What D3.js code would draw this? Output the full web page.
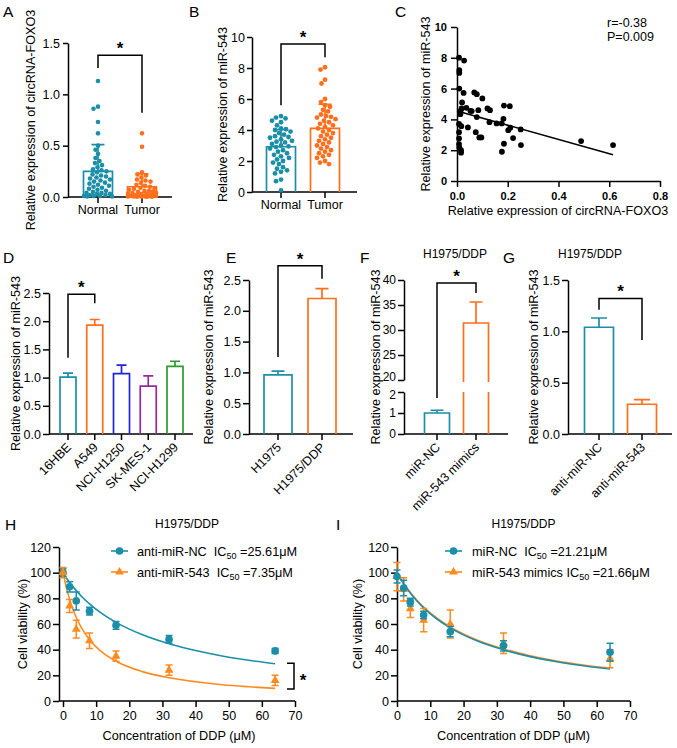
<!DOCTYPE html>
<html><head><meta charset="utf-8">
<script src="https://cdn.jsdelivr.net/npm/d3@7/dist/d3.min.js"></script>
<style>body{margin:0;background:#fff} svg text{white-space:pre}</style>
</head><body><svg id="c" width="677" height="748"></svg>
<script>
// ---------------- DATA ----------------
const groupsAB = ["Normal", "Tumor"];
const circNormal = [1.13,0.88,0.86,0.73,0.62,0.5,0.46,0.42,0.38,0.35,0.33,0.31,0.29,0.27,0.26,0.25,0.24,0.22,0.21,0.2,0.19,0.18,0.17,0.16,0.15,0.14,0.13,0.12,0.11,0.1,0.09,0.08,0.07,0.06,0.05,0.04,0.04,0.03,0.03,0.02,0.02,0.01,0.01,0.01,0.005,0.005];
const circTumor = [0.62,0.49,0.24,0.22,0.21,0.19,0.17,0.16,0.15,0.14,0.12,0.11,0.1,0.09,0.08,0.08,0.07,0.06,0.06,0.05,0.05,0.04,0.04,0.03,0.03,0.03,0.02,0.02,0.02,0.01,0.01,0.01,0.01,0.005,0.005,0.005,0.005,0.002,0.002,0.002];
const circMean = [0.25, 0.10];
const circSD = [0.26, 0.125];
const circBracket = [1.38, 1.256, 0.82];

const mirNormal = [4.9,4.8,4.75,4.6,4.5,4.3,4.1,4.05,4.0,3.9,3.8,3.7,3.6,3.55,3.5,3.4,3.3,3.25,3.2,3.1,3.0,2.95,2.9,2.8,2.7,2.6,2.5,2.4,2.3,2.2,2.1,2.0,1.9,1.8,1.6,1.5,1.4,1.3,1.2,0.8,0.7,0.1];
const mirTumor = [8.05,7.9,7.25,7.0,6.0,5.8,5.6,5.5,5.3,5.2,5.0,4.9,4.85,4.8,4.7,4.6,4.5,4.4,4.3,4.2,4.1,4.0,3.9,3.8,3.7,3.6,3.5,3.4,3.3,3.2,3.1,3.0,2.9,2.8,2.7,2.6,2.5,2.4,2.3,2.2,2.0,1.9,1.8];
const mirMean = [2.92, 4.11];
const mirSD = [1.1, 1.55];
const mirBracket = [9.55, 5.6, 8.7];

const scatterX = [0.008,0.028,0.009,0.009,0.009,0.026,0.068,0.078,0.10,0.02,0.037,0.018,0.014,0.053,0.058,0.084,0.12,0.13,0.185,0.208,0.013,0.078,0.183,0.128,0.156,0.176,0.008,0.017,0.043,0.21,0.202,0.251,0.074,0.008,0.008,0.088,0.096,0.221,0.489,0.185,0.008,0.252,0.615,0.009,0.016,0.016,0.177];
const scatterY = [8.01,7.82,7.19,7.02,6.0,5.72,5.75,5.64,5.36,5.1,4.75,4.71,4.54,4.56,4.54,4.6,4.71,4.6,4.9,4.86,4.34,4.15,4.04,3.82,3.74,3.74,3.7,3.56,3.48,3.46,3.3,3.35,3.17,3.17,2.76,2.83,2.83,2.79,2.59,2.42,2.4,2.33,2.33,2.18,2.0,1.84,1.9];
const regX = [0, 0.615];
const regY = [4.55, 1.7];

const cellLines = ["16HBE","A549","NCI-H1250","SK-MES-1","NCI-H1299"];
const cellMean = [1.01,1.93,1.07,0.85,1.2];
const cellSD = [0.07,0.1,0.15,0.18,0.09];
const cellBracket = [2.48, 1.35, 2.32];

const eCats = ["H1975","H1975/DDP"];
const eMean = [0.96, 2.2];
const eSD = [0.06, 0.16];
const eBracket = [2.73, 1.25, 2.52];

const fCats = ["miR-NC","miR-543 mimics"];
const fMean = [1.0, 31.4];
const fSD = [0.13, 4.2];
const fBracket = [39.4, 1.71, 37.4];

const gCats = ["anti-miR-NC","anti-miR-543"];
const gMean = [1.04, 0.29];
const gSD = [0.09, 0.045];
const gBracket = [1.32, 1.21, 0.915];

const doses = [0,2,4,8,16,32,64];
const hNC = [100,89,78,70,59,48,39];
const hNCsd = [3,4,7,3,3,3,2];
const h543 = [100,74,56,47,35,24,16];
const h543sd = [4,5,7,6,4,4,4];
const curveX = [0,1,2,4,6,8,12,16,24,32,40,48,56,64];
const hCurveNC = [100,95.9,92.4,86,80.5,75.7,67.7,61.3,51.6,44.6,39.3,35.1,31.8,29];
const hCurve543 = [100,88.5,79.2,65.1,55.2,47.8,37.7,31,22.9,18.1,15,12.7,11.1,9.8];
const hBracket = [67.6, 69.7, 29.5, 9.4];

const iNC = [97,88,77,67,54,43,38];
const iNCsd = [5,6,3,3,4,4,7];
const iMim = [97,87,72,63,60,45,33];
const iMimsd = [11,9,7,9,11,8,7];
const iCurveNC = [100,95.5,91.4,84.1,77.9,72.6,63.9,57,46.9,39.9,34.6,30.6,27.5,25];
const iCurveMim = [100,95.6,91.6,84.5,78.4,73.2,64.6,57.7,47.6,40.6,35.3,31.2,28.1,25.6];

const yTicksA = [0,0.5,1.0,1.5];
const yTicksB = [0,2,4,6,8,10];
const xTicksC = [0,0.2,0.4,0.6,0.8];
const yTicksDE = [0,0.5,1.0,1.5,2.0,2.5];
const yTicksFtop = [20,25,30,35,40];
const yTicksFbot = [0,1,2];
const yTicksG = [0,0.5,1.0,1.5];
const xTicksHI = [0,10,20,30,40,50,60,70];
const yTicksHI = [0,20,40,60,80,100,120];

// ---------------- STYLE ----------------
const FONT = '"Liberation Sans", Arial, Helvetica, sans-serif';
const TEAL = "#1b8fa8", ORANGE = "#ff6f1c", ORANGE2 = "#ff8a1e";
const cellColors = [TEAL, ORANGE, "#2222dd", "#952a98", "#2a9c2a"];
const svg = d3.select("#c").attr("font-family", FONT);
svg.append("rect").attr("width",677).attr("height",748).attr("fill","#fff");
const LW = 1.5;

function text(x, y, s, o = {}) {
  const t = svg.append("text").attr("x", x).attr("y", y).text(s)
    .attr("font-size", o.fs || 12.5).attr("text-anchor", o.anchor || "start").attr("fill", "#000");
  if (o.bold) t.attr("font-weight", "bold");
  if (o.rot) t.attr("transform", `rotate(${o.rot},${x},${y})`);
  return t;
}
function styleAx(g, o = {}) {
  g.attr("font-family", FONT).attr("font-size", o.fs || 12.5);
  if (o.bold) g.attr("font-weight", "bold");
  g.selectAll("path,line").attr("stroke", "#000").attr("stroke-width", LW);
  g.selectAll("text").attr("fill", "#000");
}
function yAxis(scale, x, ticks, fmt, o = {}) {
  const g = svg.append("g").attr("transform", `translate(${x},0)`)
    .call(d3.axisLeft(scale).tickValues(ticks).tickFormat(fmt).tickSize(o.ts || 6).tickPadding(o.tp ?? 2).tickSizeOuter(0));
  styleAx(g, o);
  return g;
}
function hline(x1, x2, y) {
  svg.append("line").attr("x1", x1).attr("x2", x2).attr("y1", y).attr("y2", y).attr("stroke", "#000").attr("stroke-width", LW);
}
function catAxis(cats, centers, y, rotate) {
  const g = svg.append("g").attr("transform", `translate(0,${y})`);
  cats.forEach((c, i) => {
    g.append("line").attr("x1", centers[i]).attr("x2", centers[i]).attr("y1", 0).attr("y2", 6).attr("stroke", "#000").attr("stroke-width", LW);
    if (rotate) {
      g.append("text").attr("transform", `translate(${centers[i] + 4},${14}) rotate(-45)`)
        .attr("text-anchor", "end").attr("font-size", 12.5).attr("fill", "#000").text(c);
    } else {
      g.append("text").attr("x", centers[i]).attr("y", 17).attr("text-anchor", "middle").attr("font-size", 12.5).attr("fill", "#000").text(c);
    }
  });
}
function bar(cx, w, yTop, yBot, color) {
  svg.append("path").attr("d", `M${cx - w / 2},${yBot}V${yTop}H${cx + w / 2}V${yBot}`)
    .attr("fill", "none").attr("stroke", color).attr("stroke-width", 1.7);
}
function errUp(cx, y1, y2, cap, color) {
  svg.append("path").attr("d", `M${cx},${y1}V${y2}M${cx - cap / 2},${y2}H${cx + cap / 2}`)
    .attr("fill", "none").attr("stroke", color).attr("stroke-width", 1.7);
}
function bracket(x1, x2, yTop, yL, yR) {
  svg.append("path").attr("d", `M${x1},${yL}V${yTop}H${x2}V${yR}`).attr("fill", "none").attr("stroke", "#000").attr("stroke-width", LW);
  star((x1 + x2) / 2, yTop - 11);
}
function star(x, yc) {
  svg.append("text").attr("x", x).attr("y", yc + 10).attr("text-anchor", "middle").attr("font-size", 17)
    .attr("font-weight", "bold").attr("fill", "#000").text("*");
}
function swarm(vals, y, cx, r, half, color) {
  const pts = vals.map(v => ({ v, y: y(v) })).sort((a, b) => a.y - b.y);
  const placed = [];
  const cands = d3.range(-half, half + 0.01, 0.5).sort((a, b) => Math.abs(a) - Math.abs(b));
  for (const p of pts) {
    let best = null, bestD = -1;
    for (const off of cands) {
      const x = cx + off;
      let md = Infinity;
      for (const q of placed) md = Math.min(md, Math.hypot(q.x - x, q.y - p.y));
      if (md >= 2 * r + 0.2) { best = x; bestD = md; break; }
      if (md > bestD) { bestD = md; best = x; }
    }
    placed.push({ x: best, y: p.y });
  }
  svg.append("g").selectAll("circle").data(placed).join("circle")
    .attr("cx", d => d.x).attr("cy", d => d.y).attr("r", r).attr("fill", color);
}

// ---------------- PANEL A ----------------
{
  const y = d3.scaleLinear().domain([0, 1.5]).range([197, 43]);
  const xs = d3.scalePoint().domain(groupsAB).range([98, 142]);
  yAxis(y, 68, yTicksA, d3.format(".1f"), { ts: 5, tp: 3 });
  hline(68, 172, y(0));
  catAxis(groupsAB, groupsAB.map(xs), y(0), false);
  const sets = [circNormal, circTumor], cols = [TEAL, ORANGE];
  groupsAB.forEach((g, i) => {
    bar(xs(g), 29, y(circMean[i]), y(0), cols[i]);
    errUp(xs(g), y(circMean[i]), y(circMean[i] + circSD[i]), 13, cols[i]);
    swarm(sets[i], y, xs(g), 2.3, 14, cols[i]);
  });
  bracket(xs(groupsAB[0]), xs(groupsAB[1]), y(circBracket[0]), y(circBracket[1]), y(circBracket[2]));
  text(35, 120, "Relative expression of circRNA-FOXO3", { rot: -90, anchor: "middle", fs: 12.6 });
  text(3, 17, "A", { fs: 15.5 });
}
// ---------------- PANEL B ----------------
{
  const y = d3.scaleLinear().domain([0, 10]).range([192, 37]);
  const xs = d3.scalePoint().domain(groupsAB).range([281, 325]);
  yAxis(y, 252, yTicksB, d3.format("d"), { ts: 5, tp: 2 });
  hline(252, 357, y(0));
  catAxis(groupsAB, groupsAB.map(xs), y(0), false);
  const sets = [mirNormal, mirTumor], cols = [TEAL, ORANGE];
  groupsAB.forEach((g, i) => {
    bar(xs(g), 29, y(mirMean[i]), y(0), cols[i]);
    errUp(xs(g), y(mirMean[i]), y(mirMean[i] + mirSD[i]), 13, cols[i]);
    swarm(sets[i], y, xs(g), 2.4, 14, cols[i]);
  });
  bracket(xs(groupsAB[0]), xs(groupsAB[1]), y(mirBracket[0]), y(mirBracket[1]), y(mirBracket[2]));
  text(227, 114.5, "Relative expression of miR-543", { rot: -90, anchor: "middle", fs: 12.6 });
  text(189, 17, "B", { fs: 15.5 });
}
// ---------------- PANEL C ----------------
{
  const x = d3.scaleLinear().domain([0, 0.8]).range([457, 660]);
  const y = d3.scaleLinear().domain([0, 10]).range([181, 27]);
  yAxis(y, 457, yTicksB, d3.format("d"), { ts: 6, tp: 4, bold: true, fs: 11 });
  const gx = svg.append("g").attr("transform", `translate(0,${181})`)
    .call(d3.axisBottom(x).tickValues(xTicksC).tickFormat(d3.format(".1f")).tickSize(6).tickPadding(5).tickSizeOuter(0));
  styleAx(gx, { bold: true, fs: 11 });
  svg.append("line").attr("x1", x(regX[0])).attr("y1", y(regY[0])).attr("x2", x(regX[1])).attr("y2", y(regY[1]))
    .attr("stroke", "#000").attr("stroke-width", 1.6);
  svg.append("g").selectAll("circle").data(scatterX).join("circle")
    .attr("cx", d => x(d)).attr("cy", (d, i) => y(scatterY[i])).attr("r", 2.9).attr("fill", "#000");
  text(430, 104, "Relative expression of miR-543", { rot: -90, anchor: "middle", fs: 12.6 });
  text(558, 215, "Relative expression of circRNA-FOXO3", { anchor: "middle", fs: 12.6 });
  text(607, 27, "r=-0.38", { fs: 12.5 });
  text(607, 41, "P=0.009", { fs: 12.5 });
  text(395, 17, "C", { fs: 15.5 });
}
// ---------------- PANEL D ----------------
{
  const y = d3.scaleLinear().domain([0, 2.5]).range([434, 293]);
  const xs = d3.scalePoint().domain(cellLines).range([68, 175]);
  yAxis(y, 49, yTicksDE, d3.format(".1f"));
  hline(49, 193, y(0));
  catAxis(cellLines, cellLines.map(xs), y(0), true);
  cellLines.forEach((c, i) => {
    bar(xs(c), 16, y(cellMean[i]), y(0), cellColors[i]);
    errUp(xs(c), y(cellMean[i]), y(cellMean[i] + cellSD[i]), 10, cellColors[i]);
  });
  bracket(xs(cellLines[0]), xs(cellLines[1]), y(cellBracket[0]), y(cellBracket[1]), y(cellBracket[2]));
  text(20, 363.5, "Relative expression of miR-543", { rot: -90, anchor: "middle", fs: 12.6 });
  text(3, 263, "D", { fs: 15.5 });
}
// ---------------- PANEL E ----------------
{
  const y = d3.scaleLinear().domain([0, 2.5]).range([434, 280]);
  const xs = d3.scalePoint().domain(eCats).range([278, 322]);
  yAxis(y, 249, yTicksDE, d3.format(".1f"));
  hline(249, 353, y(0));
  catAxis(eCats, eCats.map(xs), y(0), true);
  const cols = [TEAL, ORANGE];
  eCats.forEach((c, i) => {
    bar(xs(c), 28, y(eMean[i]), y(0), cols[i]);
    errUp(xs(c), y(eMean[i]), y(eMean[i] + eSD[i]), 13, cols[i]);
  });
  bracket(xs(eCats[0]), xs(eCats[1]), y(eBracket[0]), y(eBracket[1]), y(eBracket[2]));
  text(213, 357, "Relative expression of miR-543", { rot: -90, anchor: "middle", fs: 12.6 });
  text(226, 263, "E", { fs: 15.5 });
}
// ---------------- PANEL F (broken axis) ----------------
{
  const yB = d3.scaleLinear().domain([0, 2]).range([434, 392]);
  const yT = d3.scaleLinear().domain([20, 40]).range([380, 280]);
  const xs = d3.scalePoint().domain(fCats).range([437, 476]);
  const gT = yAxis(yT, 404, yTicksFtop, d3.format("d"), { fs: 12 });
  const gB = yAxis(yB, 404, yTicksFbot, d3.format("d"), { fs: 12 });
  gT.selectAll(".tick").filter(d => d === 20).select("text").attr("dy", "0.05em");
  gB.selectAll(".tick").filter(d => d === 2).select("text").attr("dy", "0.55em");
  hline(404, 508, yB(0));
  catAxis(fCats, fCats.map(xs), yB(0), true);
  const cols = [TEAL, ORANGE];
  bar(xs(fCats[0]), 25, yB(fMean[0]), yB(0), cols[0]);
  errUp(xs(fCats[0]), yB(fMean[0]), yB(fMean[0] + fSD[0]), 13, cols[0]);
  const cx = xs(fCats[1]), w = 25;
  svg.append("path").attr("d", `M${cx - w / 2},${yB(0)}V${yB(2)}M${cx + w / 2},${yB(0)}V${yB(2)}`)
    .attr("stroke", cols[1]).attr("stroke-width", 1.7).attr("fill", "none");
  bar(cx, w, yT(fMean[1]), yT(19.6), cols[1]);
  errUp(cx, yT(fMean[1]), yT(fMean[1] + fSD[1]), 13, cols[1]);
  svg.append("path").attr("d", `M${xs(fCats[0])},${yB(fBracket[1])}V${yT(fBracket[0])}H${cx}V${yT(fBracket[2])}`)
    .attr("fill", "none").attr("stroke", "#000").attr("stroke-width", LW);
  star((xs(fCats[0]) + cx) / 2, yT(fBracket[0]) - 11);
  text(380, 357, "Relative expression of miR-543", { rot: -90, anchor: "middle", fs: 12.6 });
  text(455, 258, "H1975/DDP", { anchor: "middle", fs: 12 });
  text(360, 263, "F", { fs: 15.5 });
}
// ---------------- PANEL G ----------------
{
  const y = d3.scaleLinear().domain([0, 1.5]).range([434, 280]);
  const xs = d3.scalePoint().domain(gCats).range([599, 642]);
  yAxis(y, 568, yTicksG, d3.format(".1f"));
  hline(568, 672, y(0));
  catAxis(gCats, gCats.map(xs), y(0), true);
  const cols = [TEAL, ORANGE];
  gCats.forEach((c, i) => {
    bar(xs(c), 29, y(gMean[i]), y(0), cols[i]);
    errUp(xs(c), y(gMean[i]), y(gMean[i] + gSD[i]), 16, cols[i]);
  });
  bracket(xs(gCats[0]), xs(gCats[1]), y(gBracket[0]), y(gBracket[1]), y(gBracket[2]));
  text(538, 357, "Relative expression of miR-543", { rot: -90, anchor: "middle", fs: 12.6 });
  text(590, 258, "H1975/DDP", { anchor: "middle", fs: 12 });
  text(503, 263, "G", { fs: 15.5 });
}
// ---------------- DOSE PANELS ----------------
function dosePanel(o) {
  const x = d3.scaleLinear().domain([0, 70]).range([o.x0, o.x1]);
  const y = d3.scaleLinear().domain([0, 120]).range([701, 547]);
  yAxis(y, o.ax, yTicksHI, d3.format("d"));
  const gx = svg.append("g").attr("transform", `translate(0,701)`)
    .call(d3.axisBottom(x).tickValues(xTicksHI).tickFormat(d3.format("d")).tickSize(6).tickPadding(4).tickSizeOuter(0));
  styleAx(gx);
  gx.select(".domain").remove();
  hline(o.ax, o.x1, 701);
  const line = d3.line().x((d, i) => x(curveX[i])).y(d => y(d)).curve(d3.curveMonotoneX);
  const drawOrder = o.order.map(k => o.series[k]);
  drawOrder.forEach(s => {
    svg.append("path").attr("d", line(s.curve)).attr("fill", "none").attr("stroke", s.color).attr("stroke-width", 1.6);
  });
  drawOrder.forEach(s => {
    const g = svg.append("g");
    doses.forEach((d, i) => {
      const cx = x(d);
      g.append("path").attr("d", `M${cx},${y(s.v[i] - s.sd[i])}V${y(s.v[i] + s.sd[i])}M${cx - 3.5},${y(s.v[i] - s.sd[i])}h7M${cx - 3.5},${y(s.v[i] + s.sd[i])}h7`)
        .attr("stroke", s.color).attr("stroke-width", 1.5).attr("fill", "none");
      g.append("path").attr("d", d3.symbol(s.shape, s.size)()).attr("transform", `translate(${cx},${y(s.v[i])})`).attr("fill", s.color);
    });
  });
  o.series.forEach((s, k) => {
    const ly = 551 + k * 21;
    svg.append("line").attr("x1", o.lx).attr("x2", o.lx + 17).attr("y1", ly).attr("y2", ly).attr("stroke", s.color).attr("stroke-width", 1.6);
    svg.append("path").attr("d", d3.symbol(s.shape, s.size)()).attr("transform", `translate(${o.lx + 8.5},${ly})`).attr("fill", s.color);
    const t = svg.append("text").attr("x", o.tx).attr("y", ly + 4.5).attr("font-size", 12.7).attr("fill", "#000");
    t.append("tspan").text(s.name + "IC");
    t.append("tspan").attr("font-size", 9).attr("dy", 3).text("50");
    t.append("tspan").attr("dy", -3).text(" =" + s.ic + "μM");
  });
  text((o.ax + o.x1) / 2 + 10, 528, "H1975/DDP", { anchor: "middle", fs: 12 });
  text((o.x0 + o.x1) / 2, 740, "Concentration of DDP (μM)", { anchor: "middle", fs: 12.7 });
  text(o.ylx, 624, "Cell viability (%)", { rot: -90, anchor: "middle", fs: 12.7 });
  return { x, y };
}
{
  const { x, y } = dosePanel({
    x0: 63, x1: 295, ax: 59, lx: 111, tx: 137, ylx: 27, order: [0, 1],
    series: [
      { name: "anti-miR-NC  ", ic: "25.61", v: hNC, sd: hNCsd, curve: hCurveNC, color: TEAL, shape: d3.symbolCircle, size: 46 },
      { name: "anti-miR-543  ", ic: "7.35", v: h543, sd: h543sd, curve: hCurve543, color: ORANGE2, shape: d3.symbolTriangle, size: 34 }
    ]
  });
  svg.append("path").attr("d", `M${x(hBracket[0])},${y(hBracket[2])}H${x(hBracket[1])}V${y(hBracket[3])}H${x(hBracket[0])}`)
    .attr("fill", "none").attr("stroke", "#000").attr("stroke-width", LW);
  star(x(hBracket[1]) + 9, (y(hBracket[2]) + y(hBracket[3])) / 2);
  text(5, 530, "H", { fs: 15.5 });
}
{
  dosePanel({
    x0: 397, x1: 630, ax: 397, lx: 445, tx: 472, ylx: 362, order: [1, 0],
    series: [
      { name: "miR-NC  ", ic: "21.21", v: iNC, sd: iNCsd, curve: iCurveNC, color: TEAL, shape: d3.symbolCircle, size: 46 },
      { name: "miR-543 mimics ", ic: "21.66", v: iMim, sd: iMimsd, curve: iCurveMim, color: ORANGE2, shape: d3.symbolTriangle, size: 34 }
    ]
  });
  text(336, 530, "I", { fs: 15.5 });
}
</script>
</body></html>
